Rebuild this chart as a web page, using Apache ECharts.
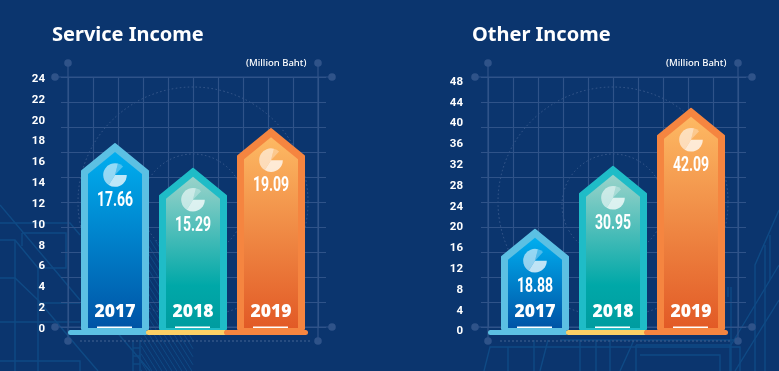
<!DOCTYPE html>
<html>
<head>
<meta charset="utf-8">
<style>
  html, body { margin: 0; padding: 0; background: #0b356e; }
  #chart { width: 779px; height: 371px; }
</style>
</head>
<body>
<div id="chart"></div>
<script src="https://cdn.jsdelivr.net/npm/echarts@6/dist/echarts.min.js"></script>
<script>
const years = ['2017', '2018', '2019']
const serviceValues = [17.66, 15.29, 19.09]
const otherValues = [18.88, 30.95, 42.09]
const serviceMax = 24
const otherMax = 48
const serviceStep = 2
const otherStep = 4

const borderColors = ['#5cc0e3', '#1fbcc7', '#f58540']
const baseColors = ['#5cc0e3', '#fdd166', '#f58540']
const fills = [
  [[0, '#00aeef'], [1, '#0054a6']],
  [[0, '#9ad3ca'], [0.72, '#00a8a8'], [1, '#009ca0']],
  [[0, '#fdb963'], [1, '#e25a26']]
]
const baseEnds = [33, 34, 37]

const gridColor = '#2f5389'
const blueprint = '#0f4a85'

function line(points, color, width) {
  return {
    type: 'polyline',
    silent: true,
    shape: { points },
    style: { stroke: color, lineWidth: width || 1, fill: null }
  }
}

// frame around a panel: extra long lines, dots, dotted circles
function frame(dx) {
  const out = []
  const dots = [[68, 63], [318, 63], [55, 77], [332, 77], [55, 327], [332, 327], [68, 341], [318, 341]]
  dots.forEach((d) => {
    out.push({ type: 'circle', silent: true, shape: { cx: d[0] + dx, cy: d[1], r: 3.8 }, style: { fill: '#2f5389' } })
  })
  out.push(line([[68 + dx, 63], [68 + dx, 341]], gridColor, 1.2))
  out.push(line([[318 + dx, 63], [318 + dx, 341]], gridColor, 1.2))
  out.push(line([[55 + dx, 77], [332 + dx, 77]], gridColor, 1.2))
  out.push(line([[55 + dx, 327], [332 + dx, 327]], gridColor, 1.2))
  out.push({
    type: 'line',
    silent: true,
    shape: { x1: 80 + dx, y1: 341, x2: 310 + dx, y2: 341 },
    style: { stroke: '#3a5b8e', lineWidth: 1.2, lineDash: [2, 2] }
  })
  ;[[115, 202], [51, 205]].forEach((c) => {
    out.push({
      type: 'circle',
      silent: true,
      shape: { cx: 193 + dx, cy: c[1], r: c[0] },
      style: { fill: null, stroke: '#3a5b8e', lineWidth: 1, lineDash: [1.5, 2.5] }
    })
  })
  return out
}

// blueprint lines behind the left and right panels
function backdrop() {
  const out = []
  const paths = [
    [[0, 205], [38, 250], [80, 300]],
    [[0, 223], [70, 223], [80, 235]],
    [[22, 233], [66, 233], [66, 268], [38, 268], [38, 371]],
    [[22, 233], [22, 246]],
    [[0, 240], [15, 240], [38, 268]],
    [[15, 240], [15, 371]],
    [[0, 278], [15, 278], [38, 300], [80, 350], [98, 371]],
    [[0, 322], [80, 322]],
    [[38, 303], [80, 303]],
    [[0, 361], [80, 361], [80, 371]],
    [[115, 330], [150, 371]],
    [[133, 340], [133, 371]],
    [[140, 340], [140, 371]],
    [[133, 348], [140, 348]],
    [[133, 356], [140, 356]],
    [[133, 364], [140, 364]],
    [[484, 371], [490, 347], [740, 347], [740, 371]],
    [[508, 347], [508, 371]],
    [[534, 340], [534, 371]],
    [[540, 371], [548, 340]],
    [[560, 340], [735, 340]],
    [[580, 340], [580, 371]],
    [[596, 340], [596, 371]],
    [[610, 340], [610, 371]],
    [[620, 371], [634, 340]],
    [[636, 345], [636, 371]],
    [[636, 345], [730, 345], [730, 371]],
    [[640, 355], [720, 355], [720, 371]],
    [[731, 287], [731, 371]],
    [[728, 287], [728, 297]],
    [[779, 210], [755, 265], [755, 371]],
    [[779, 265], [731, 345]],
    [[779, 300], [735, 371]],
    [[765, 245], [765, 371]],
    [[770, 235], [770, 280]]
  ]
  paths.forEach((p) => out.push(line(p, blueprint, 1.4)))
  // hatching under the middle bar
  for (let k = 60; k < 193; k += 5) {
    const y1 = Math.max(240, 240 + (141 - k) * 1.6)
    const y2 = Math.min(371, 240 + (193 - k) * 1.6)
    out.push(line([[k + (y1 - 240) / 1.6, y1], [k + (y2 - 240) / 1.6, y2]], blueprint, 1))
  }
  return out
}

const panels = [
  { title: 'Service Income', titleX: 52, unitX: 308, dx: 0, values: serviceValues, max: serviceMax, step: serviceStep, labelTop: 79, labelHeight: 250, labelMargin: 31 },
  { title: 'Other Income', titleX: 472, unitX: 728, dx: 420, values: otherValues, max: otherMax, step: otherStep, labelTop: 82, labelHeight: 249.5, labelMargin: 33 }
]

function renderHouse(params, api) {
  const i = params.dataIndex
  const value = api.value(1)
  const top = api.coord([i, value])
  const zero = api.coord([i, 0])
  const cx = top[0]
  const py = top[1]
  const bottom = zero[1]
  const fill = fills[i]
  const grad = new echarts.graphic.LinearGradient(0, 0, 0, 1, fill.map((s) => ({ offset: s[0], color: s[1] })))
  return {
    type: 'group',
    children: [
      {
        type: 'polygon',
        shape: { points: [[cx - 33, bottom + 2], [cx - 33, py + 28], [cx, py + 1], [cx + 33, py + 28], [cx + 33, bottom + 2]] },
        style: { fill: borderColors[i], stroke: borderColors[i], lineWidth: 2, lineJoin: 'round' }
      },
      {
        type: 'polygon',
        shape: { points: [[cx - 27, bottom + 1], [cx - 27, py + 31], [cx, py + 9], [cx + 27, py + 31], [cx + 27, bottom + 1]] },
        style: { fill: grad }
      },
      {
        type: 'rect',
        shape: { x: cx - 18, y: bottom - 0.5, width: 35, height: 1.5 },
        style: { fill: '#ffffff' }
      },
      {
        type: 'rect',
        shape: { x: cx - 47, y: bottom + 3, width: 47 + baseEnds[i], height: 5, r: 2.5 },
        style: { fill: baseColors[i] }
      },
      {
        type: 'sector',
        shape: { cx, cy: py + 32, r0: 0, r: 11.8, startAngle: 0, endAngle: Math.PI * 0.68 },
        style: { fill: 'rgba(255,255,255,0.75)' }
      },
      {
        type: 'sector',
        shape: { cx, cy: py + 32, r0: 0, r: 11.8, startAngle: Math.PI * 0.68, endAngle: Math.PI * 1.58 },
        style: { fill: 'rgba(255,255,255,0.58)' }
      },
      {
        type: 'sector',
        shape: { cx, cy: py + 32, r0: 0, r: 11.8, startAngle: Math.PI * 1.58, endAngle: Math.PI * 1.74 },
        style: { fill: 'rgba(255,255,255,0.3)' }
      },
      {
        // squeezed, there is no narrow face installed
        type: 'text',
        x: cx,
        y: py + 58,
        scaleX: 0.7,
        style: {
          x: 0,
          y: 0,
          text: value.toFixed(2),
          fill: '#ffffff',
          font: 'bold 20px Roboto, sans-serif',
          align: 'center',
          verticalAlign: 'middle'
        }
      }
    ]
  }
}

const titles = []
const grids = []
const xAxes = []
const yAxes = []
const series = []
const graphics = backdrop()

panels.forEach((p) => {
  titles.push({
    text: p.title,
    left: p.titleX,
    top: 25,
    padding: 0,
    textStyle: { color: '#fff', fontSize: 20, fontWeight: 700, fontFamily: 'Noto Sans' }
  })
  titles.push({
    text: '(Million Baht)',
    left: p.unitX - 62,
    top: 58,
    padding: 0,
    textStyle: { color: '#fff', fontSize: 9.5, fontWeight: 500, fontFamily: 'Noto Sans' }
  })

  const dec = { show: false }
  // horizontal grid lines
  let g = grids.length
  grids.push({ left: 61 + p.dx, width: 265, top: 77, height: 250 })
  xAxes.push({ gridIndex: g, type: 'value', min: 0, max: 10, show: false, splitLine: dec })
  yAxes.push({
    gridIndex: g, type: 'value', min: 0, max: 10, interval: 1,
    axisLine: dec, axisTick: dec, axisLabel: dec,
    splitLine: { lineStyle: { color: gridColor, width: 1.2 } }
  })
  // vertical grid lines
  g = grids.length
  grids.push({ left: 68 + p.dx, width: 250, top: 77, height: 250 })
  xAxes.push({
    gridIndex: g, type: 'value', min: 0, max: 10, interval: 1,
    axisLine: dec, axisTick: dec, axisLabel: dec,
    splitLine: { lineStyle: { color: gridColor, width: 1.2 } }
  })
  yAxes.push({ gridIndex: g, type: 'value', min: 0, max: 10, show: false, splitLine: dec })
  // tick labels sit a little below the plot scale in the original
  g = grids.length
  grids.push({ left: 76 + p.dx, width: 234, top: p.labelTop, height: p.labelHeight })
  xAxes.push({ gridIndex: g, type: 'value', min: 0, max: 10, show: false, splitLine: dec })
  yAxes.push({
    gridIndex: g,
    type: 'value',
    min: 0,
    max: p.max,
    interval: p.step,
    axisLine: dec,
    axisTick: dec,
    splitLine: dec,
    axisLabel: {
      margin: p.labelMargin,
      color: '#fff',
      fontFamily: 'Roboto',
      fontWeight: 700,
      fontSize: 11.5
    }
  })
  // the real chart
  g = grids.length
  grids.push({ left: 76 + p.dx, width: 234, top: 77, height: 250 })
  xAxes.push({
    gridIndex: g,
    type: 'category',
    data: years,
    z: 5,
    axisLine: dec,
    axisTick: dec,
    axisLabel: {
      inside: true,
      margin: 6,
      color: '#fff',
      fontFamily: 'Open Sans',
      fontWeight: 800,
      fontSize: 17.5
    }
  })
  yAxes.push({
    gridIndex: g,
    type: 'value',
    min: 0,
    max: p.max,
    interval: p.step,
    axisLine: dec,
    axisTick: dec,
    axisLabel: dec,
    splitLine: dec
  })
  series.push({
    type: 'custom',
    xAxisIndex: g,
    yAxisIndex: g,
    z: 3,
    encode: { x: 0, y: 1 },
    data: p.values.map((v, i) => [i, v]),
    renderItem: renderHouse
  })
  frame(p.dx).forEach((el) => graphics.push(el))
})

const myChart = echarts.init(document.getElementById('chart'), null, { renderer: 'canvas' })
myChart.setOption({
  animation: false,
  backgroundColor: '#0b356e',
  title: titles,
  grid: grids,
  xAxis: xAxes,
  yAxis: yAxes,
  graphic: { z: -1, elements: graphics },
  series: series
})
</script>
</body>
</html>
